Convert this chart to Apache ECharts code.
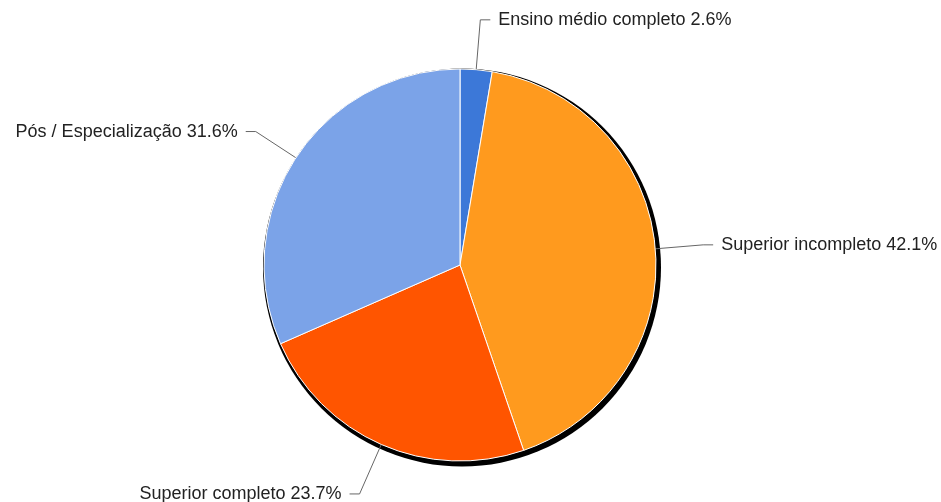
<!DOCTYPE html>
<html><head><meta charset="utf-8">
<script src="https://cdn.jsdelivr.net/npm/echarts@6/dist/echarts.min.js"></script>
<style>html,body{margin:0;padding:0;background:#fff}#c{width:941px;height:502px}</style>
</head><body><div id="c"></div>
<script>
var categories = ["Ensino médio completo", "Superior incompleto", "Superior completo", "Pós / Especialização"];
var values = [1, 16, 9, 12];
var colors = ["#3c78d8", "#ff9a1e", "#ff5500", "#7ba3e8"];

var total = values.reduce(function(a,b){return a+b;},0);
var lineLengths = [50, 48, 54, 48];
var chart = echarts.init(document.getElementById('c'));
chart.setOption({
  animation: false,
  series: [
    {
      type: 'pie', silent: true, center: [462, 267.5], radius: 199,
      label: {show: false}, labelLine: {show: false},
      itemStyle: {color: '#000', borderWidth: 0},
      data: [{value: 1, name: 'shadow'}], z: 1
    },
    {
      type: 'pie', center: [460, 265], radius: 196, startAngle: 90, clockwise: true,
      avoidLabelOverlap: false, z: 2,
      itemStyle: {borderColor: '#fff', borderWidth: 1},
      label: {
        show: true, color: '#222', fontSize: 18, fontFamily: 'Liberation Sans, Arial, sans-serif',
        formatter: function(p){ return p.name + ' ' + (p.value/total*100).toFixed(1) + '%'; },
        distanceToLabelLine: 8
      },
      labelLine: {show: true, length: 48, length2: 10, lineStyle: {color: '#666', width: 1}},
      data: categories.map(function(c,i){ return {name: c, value: values[i], itemStyle: {color: colors[i]}, labelLine: {length: lineLengths[i]}}; })
    }
  ]
});
</script></body></html>
